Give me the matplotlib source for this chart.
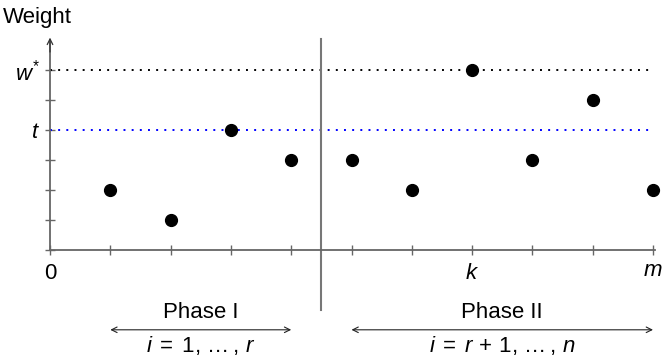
import matplotlib
matplotlib.use("Agg")
import matplotlib.pyplot as plt

plt.rcParams['font.family'] = ['Liberation Sans', 'DejaVu Sans']
plt.rcParams['mathtext.fontset'] = 'custom'
plt.rcParams['mathtext.rm'] = 'Liberation Sans'
plt.rcParams['mathtext.it'] = 'Liberation Sans:italic'

# item positions and their weights
positions = [1, 2, 3, 4, 5, 6, 7, 8, 9, 10]
weights = [2, 1, 4, 3, 3, 2, 6, 3, 5, 2]
threshold = 4       # t
w_star = 6          # w*
k_pos = 7
m_pos = 10
phase_split = 4.5
phase1 = (1, 4)
phase2 = (5, 10)

axis_col = '#666666'
fs = 16

fig = plt.figure(figsize=(6.65, 3.57), dpi=100)
ax = fig.add_axes([50 / 665, 107 / 357, 605 / 665, 210 / 357])
ax.set_xlim(0, 605 / 60.3)
ax.set_ylim(0, 7)

for s in ['top', 'right']:
    ax.spines[s].set_visible(False)
for s in ['left', 'bottom']:
    ax.spines[s].set_color(axis_col)
    ax.spines[s].set_linewidth(1.3)

# reference lines
ax.hlines(w_star, 0, m_pos, colors='black', linestyles=(0, (1, 3.2)), lw=1.4)
ax.hlines(threshold, 0, m_pos, colors='#0000ff', linestyles=(0, (1, 3.2)), lw=1.4)

# points
ax.plot(positions, weights, 'o', color='black', markersize=8.5, clip_on=False)

# phase separator
ax.plot([phase_split, phase_split], [-2.0, 7.03], color='#777777', lw=1.5, clip_on=False)

# y axis arrow
ax.annotate('', xy=(0, 7.08), xytext=(0, 6.6),
            arrowprops=dict(arrowstyle='->', color='#333333', lw=0.9,
                            shrinkA=0, shrinkB=0), annotation_clip=False)

# ticks
xt_labels = [''] * 11
xt_labels[0] = '0'
xt_labels[k_pos] = '$k$'
ax.set_xticks(range(0, 11))
ax.set_xticklabels(xt_labels, fontsize=fs)
yt_labels = [''] * 7
yt_labels[threshold] = '$t$'
yt_labels[w_star] = '$w^{*}$'
ax.set_yticks(range(0, 7))
ax.set_yticklabels(yt_labels, fontsize=fs)
ax.tick_params(axis='both', direction='inout', length=7, width=1, color=axis_col)
ax.tick_params(axis='x', pad=6)
ax.tick_params(axis='y', pad=4)

ax.text(m_pos, -0.7, '$m$', ha='center', va='center', fontsize=fs)

# phase annotations
for (a, b), name, formula in [(phase1, 'Phase I', r'$i\;=\;1,\,\ldots\,,\,r$'),
                              (phase2, 'Phase II', r'$i\;=\;r\,+\,1,\,\ldots\,,\,n$')]:
    ax.annotate('', xy=(a, -2.66), xytext=(b, -2.66),
                arrowprops=dict(arrowstyle='<->', color='#222222', lw=0.8,
                                shrinkA=0, shrinkB=0), annotation_clip=False)
    mid = (a + b) / 2
    ax.text(mid, -2.08, name, ha='center', va='center', fontsize=fs)
    ax.text(mid, -3.17, formula, ha='center', va='center', fontsize=fs)

fig.text(3 / 665, 1 - 17 / 357, 'Weight', ha='left', va='center', fontsize=fs)

fig.savefig('out.png', dpi=100)
